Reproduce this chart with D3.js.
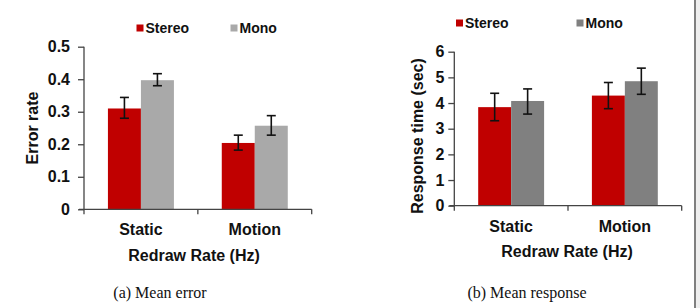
<!DOCTYPE html>
<html><head><meta charset="utf-8">
<script src="https://cdn.jsdelivr.net/npm/d3@7/dist/d3.min.js"></script>
<style>body{margin:0;background:#fff}svg{display:block}</style>
</head><body>
<svg id="c" width="700" height="308"></svg>
<script>
const categories = ["Static", "Motion"];
const seriesNames = ["Stereo", "Mono"];
// Panel (a): error rate
const errorMeans = { Stereo: [0.31, 0.204], Mono: [0.397, 0.257] };
const errorLow   = { Stereo: [0.280, 0.182], Mono: [0.380, 0.228] };
const errorHigh  = { Stereo: [0.344, 0.228], Mono: [0.417, 0.288] };
const errorTicks = [0, 0.1, 0.2, 0.3, 0.4, 0.5];
// Panel (b): response time
const respMeans = { Stereo: [3.84, 4.29], Mono: [4.08, 4.85] };
const respLow   = { Stereo: [3.31, 3.78], Mono: [3.57, 4.34] };
const respHigh  = { Stereo: [4.38, 4.80], Mono: [4.55, 5.36] };
const respTicks = [0, 1, 2, 3, 4, 5, 6];

const svg = d3.select("#c");
const SANS = "'Liberation Sans', Arial, Helvetica, sans-serif";

function panel(o) {
  const g = svg.append("g");
  const x = d3.scaleBand().domain(categories).range([o.x0, o.x1]);
  const xi = d3.scaleBand().domain(seriesNames).range([0, x.bandwidth()]).paddingInner(0).paddingOuter(0.725);
  const y = d3.scaleLinear().domain(o.domain).range([o.y0, o.y1]);
  const colors = { Stereo: "#C00000", Mono: o.mono };

  // bars
  seriesNames.forEach(s => {
    g.selectAll(null).data(categories).enter().append("rect")
      .attr("x", (c) => x(c) + xi(s))
      .attr("width", xi.bandwidth())
      .attr("y", (c, i) => y(o.means[s][i]))
      .attr("height", (c, i) => y(0) - y(o.means[s][i]))
      .attr("fill", colors[s]);
  });
  // error bars
  seriesNames.forEach(s => {
    categories.forEach((c, i) => {
      const cx = x(c) + xi(s) + xi.bandwidth() / 2;
      const lo = y(o.low[s][i]), hi = y(o.high[s][i]);
      g.append("line").attr("x1", cx).attr("x2", cx).attr("y1", lo).attr("y2", hi)
        .attr("stroke", "#111").attr("stroke-width", 1.6);
      [lo, hi].forEach(v => g.append("line").attr("x1", cx - 4.5).attr("x2", cx + 4.5)
        .attr("y1", v).attr("y2", v).attr("stroke", "#111").attr("stroke-width", 1.6));
    });
  });

  // axes
  const yAxis = d3.axisLeft(y).tickValues(o.ticks).tickSize(6).tickPadding(o.tickPad)
    .tickFormat(o.fmt);
  const ya = g.append("g").attr("transform", `translate(${o.x0},0)`).call(yAxis);
  ya.select(".domain").attr("d", `M0,${o.y1}V${o.y0 + 5}`);
  ya.selectAll("path,line").attr("stroke", "#444").attr("stroke-width", 1.3);
  ya.selectAll("text").attr("font-family", SANS).attr("font-weight", "bold")
    .attr("font-size", 16).attr("fill", "#111");

  const xa = g.append("g").attr("transform", `translate(0,${o.y0})`);
  xa.append("line").attr("x1", o.x0 - 5).attr("x2", o.x1).attr("y1", 0).attr("y2", 0)
    .attr("stroke", "#444").attr("stroke-width", 1.3);
  categories.slice(1).forEach(c => xa.append("line").attr("x1", x(c)).attr("x2", x(c))
    .attr("y1", 0).attr("y2", 5).attr("stroke", "#444").attr("stroke-width", 1.3));
  xa.append("line").attr("x1", o.x1).attr("x2", o.x1).attr("y1", 0).attr("y2", 5)
    .attr("stroke", "#444").attr("stroke-width", 1.3);
  categories.forEach(c => xa.append("text").attr("x", x(c) + x.bandwidth() / 2)
    .attr("y", o.catBase - o.y0).attr("text-anchor", "middle")
    .attr("font-family", SANS).attr("font-weight", "bold").attr("font-size", 16)
    .attr("fill", "#111").text(c));

  // titles
  g.append("text").attr("x", o.xtX).attr("y", o.xtY).attr("text-anchor", "middle")
    .attr("font-family", SANS).attr("font-weight", "bold").attr("font-size", 16)
    .attr("fill", "#111").text("Redraw Rate (Hz)");
  g.append("text").attr("transform", `translate(${o.ytX},${o.ytY}) rotate(-90)`)
    .attr("text-anchor", "middle").attr("font-family", SANS).attr("font-weight", "bold")
    .attr("font-size", 16).attr("fill", "#111").text(o.ytitle);

  // legend
  seriesNames.forEach((s, i) => {
    const lx = o.legX[i];
    g.append("rect").attr("x", lx).attr("y", o.legY - 3.5).attr("width", 7).attr("height", 7)
      .attr("fill", colors[s]);
    g.append("text").attr("x", lx + 9).attr("y", o.legY + 5)
      .attr("font-family", SANS).attr("font-weight", "bold").attr("font-size", 14)
      .attr("fill", "#111").text(s);
  });

  // caption
  svg.append("text").attr("x", o.capX).attr("y", 298).attr("text-anchor", "middle")
    .attr("font-family", "'Liberation Serif', 'Times New Roman', serif").attr("font-size", 16)
    .attr("fill", "#111").text(o.caption);
}

panel({
  x0: 84, x1: 311.7, y0: 209.3, y1: 46.7, domain: [0, 0.5],
  means: errorMeans, low: errorLow, high: errorHigh, ticks: errorTicks,
  fmt: d => d === 0 ? "0" : d3.format(".1f")(d), tickPad: 8,
  mono: "#A9A9A9", catBase: 235, xtX: 194, xtY: 261, ytX: 38, ytY: 128,
  ytitle: "Error rate", legX: [136.5, 230.5], legY: 28, capX: 160, caption: "(a) Mean error"
});
panel({
  x0: 454.3, x1: 681.7, y0: 205.7, y1: 51.7, domain: [0, 6],
  means: respMeans, low: respLow, high: respHigh, ticks: respTicks,
  fmt: d3.format("d"), tickPad: 4,
  mono: "#808080", catBase: 232, xtX: 567, xtY: 257, ytX: 422.5, ytY: 136,
  ytitle: "Response time (sec)", legX: [456, 576.5], legY: 23, capX: 527, caption: "(b) Mean response"
});

// right frame line
svg.append("line").attr("x1", 695).attr("x2", 695).attr("y1", 0).attr("y2", 308)
  .attr("stroke", "#555").attr("stroke-width", 1.5);
svg.append("rect").attr("x", 696).attr("y", 0).attr("width", 4).attr("height", 308).attr("fill", "#eeeeee");
</script>
</body></html>
